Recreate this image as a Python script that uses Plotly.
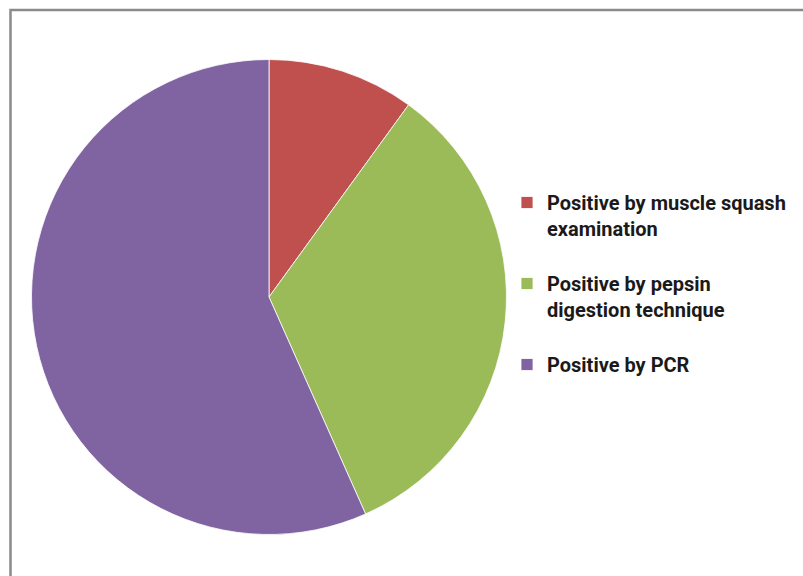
import plotly.graph_objects as go

labels = [
    "Positive by muscle squash<br>examination<br> ",
    "Positive by pepsin<br>digestion technique<br> ",
    "Positive by PCR",
]
values = [6, 20, 34]
colors = ["#C0504D", "#9BBB59", "#8064A2"]

W, H = 803, 576
cx, cy, r = 269, 297, 237.5

fig = go.Figure(
    go.Pie(
        labels=labels,
        values=values,
        sort=False,
        direction="clockwise",
        rotation=0,
        textinfo="none",
        hoverinfo="value+percent",
        marker=dict(colors=colors, line=dict(color="rgba(255,255,255,0.8)", width=1)),
        domain=dict(
            x=[(cx - r) / W, (cx + r) / W],
            y=[(H - cy - r) / H, (H - cy + r) / H],
        ),
    )
)

fig.update_layout(
    width=W,
    height=H,
    margin=dict(l=0, r=0, t=0, b=0, autoexpand=False),
    paper_bgcolor="white",
    plot_bgcolor="white",
    showlegend=True,
    legend=dict(
        x=507 / W,
        y=1 - 183 / H,
        xanchor="left",
        yanchor="top",
        valign="top",
        font=dict(family="Roboto, Arial", size=20, color="#1a1a1a", weight="bold"),
        bgcolor="rgba(0,0,0,0)",
        traceorder="normal",
    ),
    shapes=[
        dict(
            type="rect",
            xref="paper",
            yref="paper",
            x0=10.5 / W,
            x1=1.02,
            y0=-0.02,
            y1=1 - 10 / H,
            line=dict(color="#8a8a8a", width=2.5),
            fillcolor="rgba(0,0,0,0)",
            layer="above",
        )
    ],
)

fig.write_html("out.html")
